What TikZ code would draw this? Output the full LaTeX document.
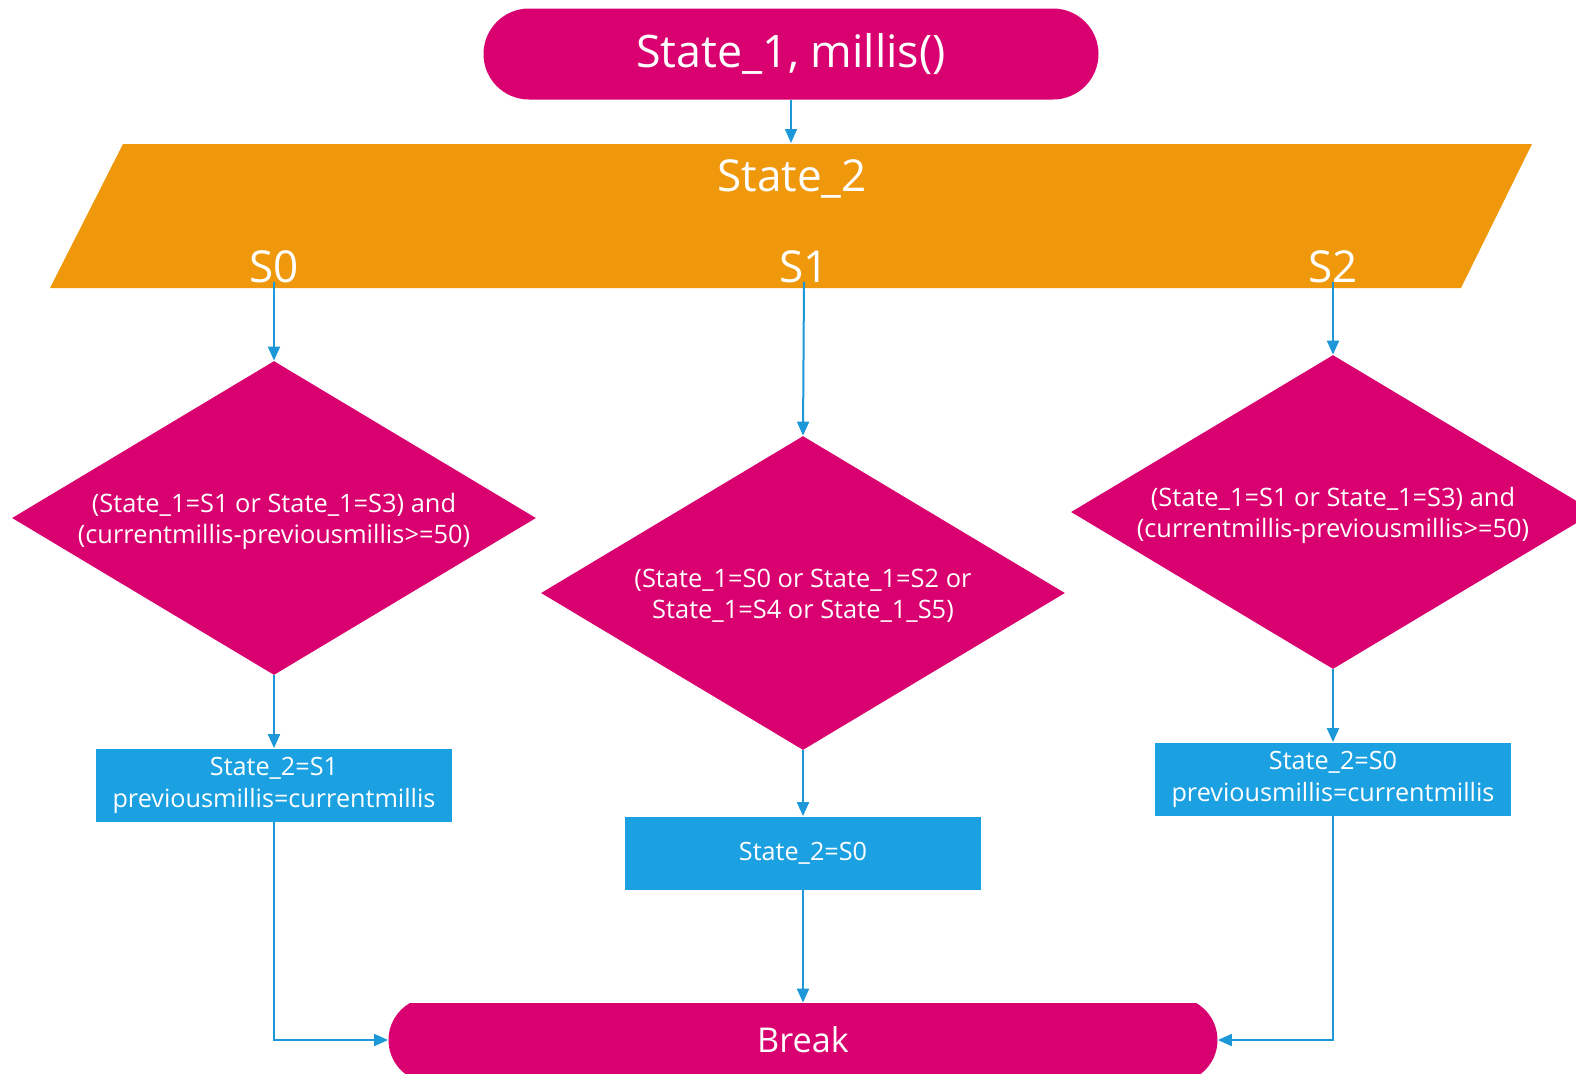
\documentclass[tikz,border=0pt]{standalone}
\usepackage{fontspec}
\setmainfont{Open Sans}
\usetikzlibrary{shapes.misc,shapes.geometric,arrows.meta}
\definecolor{magentaf}{HTML}{D9006F}
\definecolor{orangef}{HTML}{F0980C}
\definecolor{bluef}{HTML}{1BA1E2}
\definecolor{linef}{HTML}{1C98D8}
\begin{document}
\begin{tikzpicture}[x=0.5pt,y=-0.5pt,
	term/.style={rounded rectangle, fill=magentaf, text=white, inner sep=0pt},
	cond/.style={diamond, fill=magentaf, minimum width=262pt, minimum height=157pt, inner sep=0pt},
	condtext/.style={text=white, align=center, yshift=-1.5pt, font=\fontsize{12.7}{15.5}\selectfont},
	act/.style={rectangle, fill=bluef, text=white, minimum width=178pt, minimum height=36.5pt, inner sep=0pt, align=center, font=\fontsize{12.6}{16}\selectfont},
	caselbl/.style={text=white, inner sep=0pt, font=\fontsize{22}{26}\selectfont},
	flow/.style={draw=linef, line width=1pt, -{Triangle[length=7pt,width=6pt]}}]
	\useasboundingbox (0,0) rectangle (1576,1073);
	% Start
	\node[term, minimum width=307.5pt, minimum height=45.5pt, font=\fontsize{22.4}{27}\selectfont] (start) at (791,54) {State\_1, millis()};
	% Switch on State_2
	\fill[orangef] (123,144) -- (1532,144) -- (1461,288) -- (50,288) -- cycle;
	\coordinate (swtop) at (791,143);
	\node[caselbl] (sw) at (792,179) {State\_2};
	\node[caselbl, anchor=base] (s0) at (274,282) {S0};
	\node[caselbl, anchor=base] (s1) at (804,282) {S1};
	\node[caselbl, anchor=base] (s2) at (1333,282) {S2};
	% Conditions
	\node[cond] (c0) at (274,518) {};
	\node[cond] (c1) at (803,593) {};
	\node[cond] (c2) at (1333,512) {};
	\node[condtext] (c0txt) at (c0.center) {(State\_1=S1 or State\_1=S3) and\\(currentmillis-previousmillis>=50)};
	\node[condtext] (c1txt) at (c1.center) {(State\_1=S0 or State\_1=S2 or\\State\_1=S4 or State\_1\_S5)};
	\node[condtext] (c2txt) at (c2.center) {(State\_1=S1 or State\_1=S3) and\\(currentmillis-previousmillis>=50)};
	% Actions
	\node[act] (a0) at (274,785) {State\_2=S1\\previousmillis=currentmillis};
	\node[act] (a1) at (803,853) {State\_2=S0};
	\node[act] (a2) at (1333,779) {State\_2=S0\\previousmillis=currentmillis};
	% End
	\node[term, rounded rectangle arc length=120, minimum width=414.5pt, minimum height=37pt, font=\fontsize{17.1}{21}\selectfont] (brk) at (803,1040) {Break};
	% Connectors
	\draw[flow] (start.south) -- (swtop);
	\draw[flow] (s0.base) -- (c0.north);
	\draw[flow] (s1.base) -- (c1.north);
	\draw[flow] (s2.base) -- (c2.north);
	\draw[flow] (c0.south) -- (a0.north);
	\draw[flow] (c1.south) -- (a1.north);
	\draw[flow] (c2.south) -- (a2.north);
	\draw[flow] (a0.south) |- (brk.west);
	\draw[flow] (a1.south) -- (brk.north);
	\draw[flow] (a2.south) |- (brk.east);
\end{tikzpicture}
\end{document}
